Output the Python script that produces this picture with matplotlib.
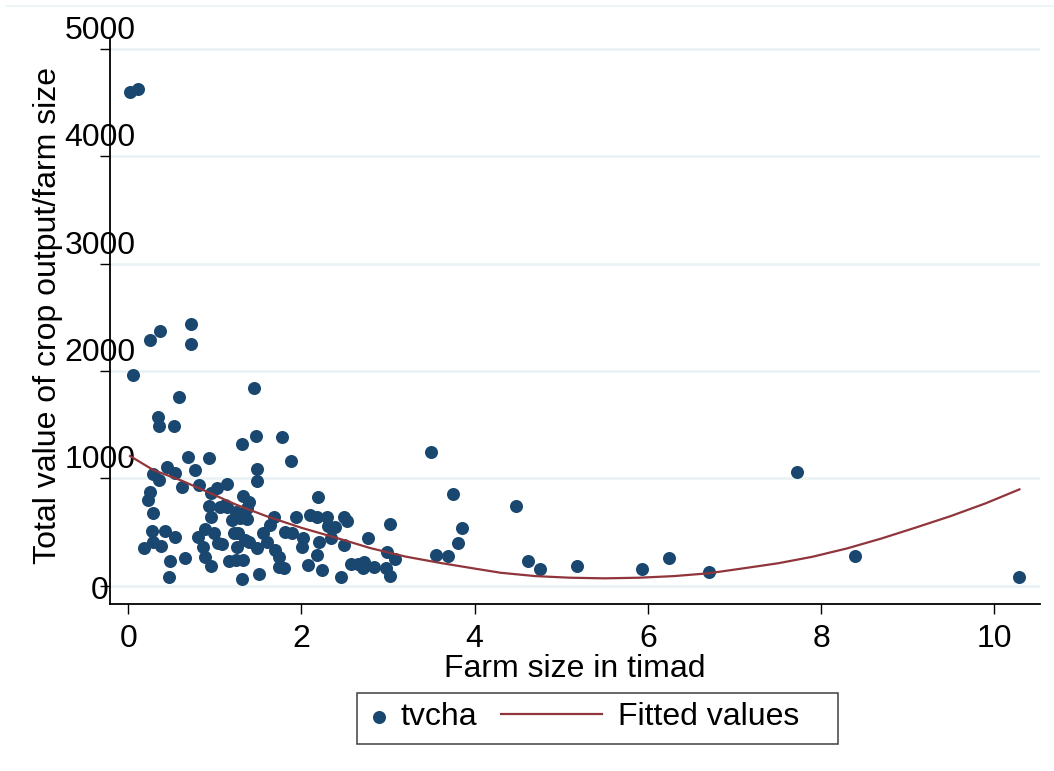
import matplotlib
matplotlib.use("Agg")
import matplotlib.pyplot as plt
from matplotlib.lines import Line2D
from matplotlib.patches import Rectangle
from matplotlib.legend_handler import HandlerLine2D
from matplotlib.transforms import offset_copy

plt.rcParams['font.family'] = ['Liberation Sans', 'DejaVu Sans']

# farm size (timad) and total value of crop output / farm size
farm_size = [
    0.02, 0.11, 0.05, 0.25, 0.37, 0.72, 0.73, 1.45, 0.58, 0.34,
    0.36, 0.53, 1.31, 1.47, 1.78, 1.88, 0.69, 0.93, 0.77, 0.45,
    0.54, 0.29, 0.36, 0.62, 0.82, 1.49, 1.49, 1.02, 1.14, 0.95,
    0.25, 0.23, 0.28, 0.93, 1.06, 1.14, 1.33, 1.39, 1.37, 0.95,
    1.20, 1.29, 1.12, 1.24, 1.37, 1.68, 1.94, 2.18, 2.19, 2.10,
    2.29, 2.49, 2.53, 2.39, 2.31, 1.64, 0.27, 0.42, 0.54, 0.18,
    0.29, 0.38, 0.80, 0.89, 0.99, 1.04, 0.86, 1.22, 1.25, 1.35,
    1.27, 1.56, 1.81, 1.89, 2.02, 2.20, 1.08, 1.39, 1.49, 1.60,
    1.70, 2.01, 2.49, 0.48, 0.66, 0.89, 0.95, 1.16, 1.24, 1.33,
    1.74, 2.18, 1.74, 1.80, 2.07, 2.24, 2.46, 1.51, 1.31, 0.47,
    2.34, 2.57, 2.65, 2.71, 2.72, 2.84, 2.77, 3.02, 2.99, 3.08,
    2.98, 3.02, 3.50, 3.75, 3.85, 3.81, 3.55, 3.69, 4.48, 4.62,
    4.76, 5.18, 5.93, 6.24, 6.71, 7.72, 8.39, 10.29,
]
tvcha = [
    4604, 4627, 1960, 2290, 2376, 2436, 2253, 1840, 1761, 1575,
    1488, 1488, 1321, 1395, 1389, 1162, 1197, 1187, 1078, 1106,
    1053, 1040, 982, 923, 938, 1090, 980, 908, 950, 861,
    876, 799, 678, 745, 733, 731, 833, 783, 721, 643,
    612, 628, 752, 690, 619, 643, 637, 643, 829, 659,
    643, 643, 603, 550, 556, 566, 513, 513, 451, 354,
    410, 370, 451, 526, 494, 395, 358, 488, 363, 426,
    494, 488, 503, 488, 442, 410, 389, 410, 354, 410,
    333, 358, 379, 233, 255, 265, 184, 233, 240, 240,
    265, 286, 177, 162, 193, 146, 84, 106, 60, 84,
    442, 202, 202, 162, 224, 177, 447, 578, 317, 246,
    162, 93, 1249, 855, 541, 401, 286, 277, 746, 233,
    153, 186, 158, 258, 125, 1062, 277, 81,
]

# quadratic fit
fit_x = [0.02, 0.29, 0.60, 0.91, 1.25, 1.60, 2.00, 2.40, 2.80, 3.20,
         3.60, 4.00, 4.30, 4.70, 5.10, 5.50, 5.90, 6.30, 6.70, 7.10,
         7.50, 7.90, 8.30, 8.70, 9.10, 9.50, 9.90, 10.29]
fit_y = [1209, 1078, 985, 876, 754, 647, 540, 447, 350, 272,
         213, 160, 121, 90, 75, 69, 75, 90, 116, 162,
         209, 270, 348, 441, 544, 650, 768, 898]

x_ticks = [0, 2, 4, 6, 8, 10]
y_ticks = [0, 1000, 2000, 3000, 4000, 5000]

NAVY = "#1a476f"
MAROON = "#90353b"
GRID = "#eaf2f3"
FS = 23


class LongLine(HandlerLine2D):
    # Stata-style legend key: a long line that sits left of its text
    def create_artists(self, legend, orig_handle, xdescent, ydescent,
                       width, height, fontsize, trans):
        y = height / 2 - ydescent
        line = Line2D([width - 78.7, width - 6.0], [y, y])
        self.update_prop(line, orig_handle, legend)
        line.set_transform(trans)
        return [line]


fig = plt.figure(figsize=(10.54, 7.71), dpi=100)
ax = fig.add_axes([110 / 1054, 1 - 604 / 771, 930 / 1054, 566 / 771])

pts = ax.scatter(farm_size, tvcha, s=88, color=NAVY, linewidths=0,
                 label="tvcha", zorder=3)
fit, = ax.plot(fit_x, fit_y, color=MAROON, lw=1.6, label="Fitted values",
               zorder=4)

ax.set_xlim(-0.211, 10.528)
ax.set_ylim(-170, 5104)
ax.set_xticks(x_ticks)
ax.set_yticks(y_ticks)
ax.tick_params(axis="x", length=7.2, width=1, pad=7, labelsize=FS)
ax.tick_params(axis="y", length=7.2, width=1, labelleft=False)
ax.yaxis.grid(True, color=GRID, lw=1.9)
ax.set_axisbelow(True)
for s in ("top", "right"):
    ax.spines[s].set_visible(False)
for s in ("left", "bottom"):
    ax.spines[s].set_linewidth(1.3)

# y labels sit above their ticks, as in the original
ytrans = ax.get_yaxis_transform()
for v in y_ticks:
    dy = -3.6 if v == 0 else 13
    ax.text(-10 / 930, v, str(v), ha="center", va="center", fontsize=FS,
            transform=offset_copy(ytrans, fig=fig, y=dy, units="points"))

ax.set_xlabel("Farm size in timad", fontsize=FS, labelpad=0)
ax.set_ylabel("Total value of crop output/farm size", fontsize=FS)
ax.yaxis.set_label_coords(-0.05, 0.51)

fig.add_artist(Line2D([7 / 1054, 1], [1 - 6 / 771] * 2, color=GRID, lw=1.2,
                      transform=fig.transFigure))

fig.legend(handles=[pts, fit], loc="center left",
           bbox_to_anchor=(364.6 / 1054, 1 - 717 / 771),
           bbox_transform=fig.transFigure, ncol=2, frameon=False,
           borderpad=0, borderaxespad=0, handlelength=0.88,
           handletextpad=0.24, columnspacing=3.3, scatterpoints=1,
           fontsize=FS, handler_map={fit: LongLine()})
fig.add_artist(Rectangle((357 / 1054, 1 - 744 / 771), 481 / 1054, 51 / 771,
                         transform=fig.transFigure, fill=False,
                         edgecolor="#404040", lw=1.1))

fig.savefig("out.png", dpi=100)
